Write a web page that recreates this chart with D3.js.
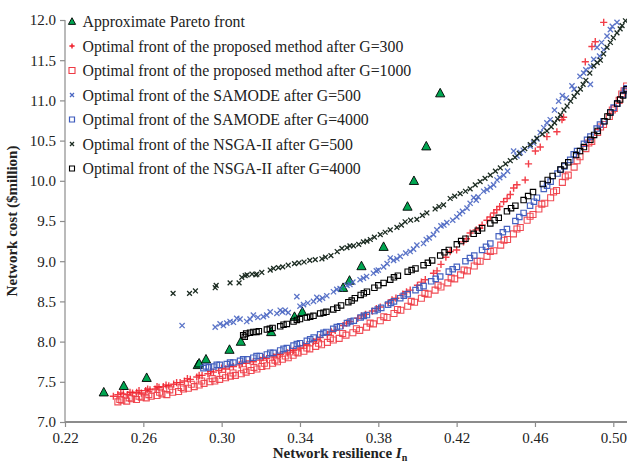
<!DOCTYPE html>
<html>
<head>
<meta charset="utf-8">
<script src="https://cdn.jsdelivr.net/npm/d3@7"></script>
<style>
  body { margin: 0; background: #fff; }
  text { font-family: "Liberation Serif", "Times New Roman", serif; }
</style>
</head>
<body>
<div id="chart"></div>
<script>

var legendLabels = [
  'Approximate Pareto front',
  'Optimal front of the proposed method after G=300',
  'Optimal front of the proposed method after G=1000',
  'Optimal front of the SAMODE after G=500',
  'Optimal front of the SAMODE after G=4000',
  'Optimal front of the NSGA-II after G=500',
  'Optimal front of the NSGA-II after G=4000'
];

var xTicks = [0.22, 0.26, 0.30, 0.34, 0.38, 0.42, 0.46, 0.50];
var yTicks = [7.0, 7.5, 8.0, 8.5, 9.0, 9.5, 10.0, 10.5, 11.0, 11.5, 12.0];

var pareto = [
  [0.2398,7.37],[0.2500,7.45],[0.2617,7.55],[0.2878,7.71],[0.2885,7.73],[0.2920,7.78],
  [0.3040,7.90],[0.3098,8.00],[0.3253,8.12],[0.3372,8.31],[0.3412,8.37],[0.3620,8.67],
  [0.3653,8.76],[0.3714,8.94],[0.3827,9.18],[0.3949,9.68],[0.3982,10.00],[0.4045,10.43],
  [0.4116,11.09]
];

var prop300 = [
  [0.2447,7.32],[0.2470,7.34],[0.2498,7.35],[0.2520,7.34],[0.2545,7.36],[0.2566,7.37],
  [0.2590,7.36],[0.2612,7.39],[0.2634,7.40],[0.2660,7.41],[0.2680,7.43],[0.2702,7.44],
  [0.2730,7.45],[0.2755,7.47],[0.2788,7.49],[0.2810,7.51],[0.2840,7.53],[0.2873,7.56],
  [0.2900,7.58],[0.2930,7.60],[0.2958,7.62],[0.2985,7.64],[0.3020,7.66],[0.3060,7.69],
  [0.3090,7.71],[0.3125,7.73],[0.3162,7.75],[0.3195,7.77],[0.3230,7.79],[0.3265,7.81],
  [0.3300,7.84],[0.3335,7.86],[0.3367,7.89],[0.3400,7.92],[0.3435,7.96],[0.3469,8.00],
  [0.3503,8.05],[0.3540,8.09],[0.3580,8.14],[0.3620,8.20],[0.3656,8.25],[0.3695,8.29],
  [0.3735,8.34],[0.3770,8.38],[0.3810,8.43],[0.3850,8.48],[0.3890,8.54],[0.3925,8.59],
  [0.3963,8.64],[0.4000,8.70],[0.4040,8.77],[0.4082,8.85],[0.4120,8.96],[0.4167,9.12],
  [0.4200,9.14],[0.4235,9.24],[0.4269,9.35],[0.4300,9.39],[0.4330,9.45],[0.4355,9.51],
  [0.4390,9.60],[0.4420,9.68],[0.4440,9.74],[0.4474,9.83],[0.4491,9.91],[0.4508,9.95],
  [0.4550,10.01],[0.4567,10.21],[0.4602,10.37],[0.4627,10.42],[0.4661,10.55],[0.4712,10.61],
  [0.4738,10.76],[0.4746,10.79],[0.4857,11.48],[0.4891,11.67],[0.4908,11.73],[0.4951,11.97],
  [0.2485,7.36],[0.2532,7.37],[0.2578,7.39],[0.2622,7.41],[0.2670,7.44],[0.2716,7.46],
  [0.2770,7.49],[0.2825,7.54],[0.2885,7.58],[0.2944,7.63],[0.3000,7.67],[0.3040,7.69],
  [0.3105,7.73],[0.3145,7.76],[0.3212,7.80],[0.3282,7.84],[0.3350,7.89],[0.3418,7.95],
  [0.3485,8.03],[0.3560,8.12],[0.3638,8.23],[0.3715,8.32],[0.3790,8.41],[0.3870,8.52],
  [0.3944,8.62],[0.4020,8.74],[0.4100,8.88],[0.4145,9.05],[0.4250,9.28],[0.4318,9.41],
  [0.4372,9.55],[0.4405,9.64],[0.4458,9.78]
];

var prop1000 = [
  [0.2470,7.25],[0.2490,7.27],[0.2515,7.26],[0.2540,7.29],[0.2565,7.28],[0.2590,7.31],
  [0.2615,7.30],[0.2640,7.32],[0.2670,7.33],[0.2695,7.35],[0.2720,7.34],[0.2750,7.37],
  [0.2780,7.38],[0.2805,7.41],[0.2830,7.42],[0.2860,7.44],[0.2885,7.46],[0.2910,7.48],
  [0.2940,7.50],[0.2965,7.51],[0.2990,7.53],[0.3020,7.55],[0.3045,7.57],[0.3070,7.58],
  [0.3100,7.60],[0.3125,7.62],[0.3150,7.64],[0.3180,7.66],[0.3205,7.69],[0.3230,7.70],
  [0.3260,7.73],[0.3285,7.75],[0.3310,7.78],[0.3340,7.80],[0.3365,7.83],[0.3390,7.86],
  [0.3420,7.88],[0.3450,7.91],[0.3480,7.94],[0.3510,7.96],[0.3540,7.99],[0.3570,8.02],
  [0.3600,8.04],[0.3635,8.08],[0.3670,8.11],[0.3705,8.14],[0.3740,8.18],[0.3775,8.22],
  [0.3810,8.26],[0.3845,8.30],[0.3880,8.35],[0.3915,8.39],[0.3950,8.44],[0.3985,8.49],
  [0.4020,8.54],[0.4055,8.59],[0.4090,8.64],[0.4120,8.68],[0.4155,8.73],[0.4190,8.78],
  [0.4220,8.83],[0.4255,8.88],[0.4290,8.94],[0.4320,9.00],[0.4355,9.06],[0.4390,9.13],
  [0.4425,9.20],[0.4460,9.27],[0.4490,9.34],[0.4525,9.42],[0.4560,9.51],[0.4590,9.58],
  [0.4620,9.65],[0.4650,9.72],[0.4680,9.79],[0.4710,9.88],[0.4740,9.98],[0.4770,10.07],
  [0.4800,10.17],[0.4830,10.30],[0.4860,10.40],[0.4890,10.49],[0.4920,10.60],[0.4950,10.70],
  [0.4980,10.80],[0.5005,10.90],[0.5030,11.00],[0.5055,11.12],[0.5068,11.18],
  [0.2480,7.28],[0.2528,7.30],[0.2578,7.32],[0.2628,7.34],[0.2683,7.37],[0.2735,7.40],
  [0.2793,7.43],[0.2845,7.47],[0.2898,7.51],[0.2952,7.54],[0.3005,7.58],[0.3058,7.61],
  [0.3112,7.65],[0.3165,7.68],[0.3218,7.73],[0.3272,7.77],[0.3325,7.82],[0.3378,7.87],
  [0.3435,7.92],[0.3495,7.98],[0.3555,8.04],[0.3618,8.10],[0.3688,8.16],[0.3758,8.23],
  [0.3828,8.31],[0.3898,8.40],[0.3968,8.50],[0.4038,8.60],[0.4105,8.70],[0.4172,8.79],
  [0.4238,8.89],[0.4305,9.00],[0.4372,9.12],[0.4442,9.26],[0.4508,9.40],[0.4575,9.56],
  [0.4635,9.71],[0.4695,9.86],[0.4755,10.05],[0.4815,10.25],[0.4875,10.47],[0.4935,10.67],
  [0.4995,10.88],[0.5043,11.08]
];

var samode500 = [
  [0.2798,8.20],[0.2967,8.18],[0.2992,8.22],[0.3009,8.20],[0.3026,8.23],[0.3043,8.25],
  [0.3077,8.29],[0.3094,8.28],[0.3128,8.25],[0.3162,8.33],[0.3185,8.30],[0.3213,8.31],
  [0.3248,8.37],[0.3282,8.35],[0.3299,8.39],[0.3325,8.39],[0.3340,8.36],[0.3384,8.56],
  [0.3418,8.46],[0.3440,8.48],[0.3469,8.50],[0.3486,8.55],[0.3515,8.54],[0.3537,8.57],
  [0.3571,8.62],[0.3605,8.66],[0.3640,8.70],[0.3670,8.74],[0.3707,8.77],[0.3740,8.81],
  [0.3775,8.85],[0.3800,8.89],[0.3827,8.93],[0.3861,9.04],[0.3878,9.01],[0.3912,9.06],
  [0.3940,9.10],[0.3963,9.12],[0.3997,9.20],[0.4031,9.22],[0.4060,9.29],[0.4082,9.33],
  [0.4099,9.39],[0.4120,9.44],[0.4150,9.48],[0.4180,9.51],[0.4201,9.55],[0.4230,9.62],
  [0.4253,9.66],[0.4269,9.72],[0.4287,9.79],[0.4310,9.80],[0.4338,9.87],[0.4355,9.89],
  [0.4389,9.95],[0.4406,10.01],[0.4440,10.07],[0.4460,10.12],[0.4491,10.37],[0.4508,10.31],
  [0.4540,10.38],[0.4576,10.43],[0.4593,10.47],[0.4627,10.60],[0.4661,10.72],[0.4678,10.76],
  [0.4700,10.88],[0.4721,10.99],[0.4760,11.03],[0.4789,11.18],[0.4800,11.14],[0.4849,11.34],
  [0.4883,11.20],[0.4885,11.42],[0.4900,11.51],[0.4917,11.66],[0.4930,11.55],[0.4951,11.63],
  [0.4968,11.80],[0.4985,11.88],[0.5019,11.97],
  [0.3060,8.24],[0.3145,8.28],[0.3230,8.33],[0.3310,8.37],[0.3400,8.44],[0.3500,8.52],
  [0.3588,8.65],[0.3655,8.71],[0.3724,8.79],[0.3790,8.88],[0.3845,8.97],[0.3895,9.03],
  [0.3980,9.15],[0.4045,9.27],[0.4135,9.45],[0.4215,9.59],[0.4300,9.76],[0.4372,9.92],
  [0.4420,10.04],[0.4525,10.35],[0.4610,10.52],[0.4645,10.66],[0.4740,11.06],[0.4830,11.30],
  [0.4860,11.38],[0.4940,11.72],[0.4995,11.92]
];

var samode4000 = [
  [0.2907,7.67],[0.2935,7.68],[0.2958,7.69],[0.2990,7.71],[0.3026,7.72],[0.3060,7.74],
  [0.3094,7.76],[0.3130,7.78],[0.3162,7.80],[0.3195,7.82],[0.3231,7.84],[0.3265,7.86],
  [0.3299,7.89],[0.3333,7.92],[0.3367,7.95],[0.3400,7.98],[0.3435,8.01],[0.3470,8.05],
  [0.3503,8.09],[0.3535,8.12],[0.3570,8.16],[0.3605,8.19],[0.3640,8.23],[0.3675,8.26],
  [0.3710,8.30],[0.3742,8.33],[0.3780,8.38],[0.3815,8.42],[0.3850,8.46],[0.3880,8.50],
  [0.3912,8.54],[0.3950,8.59],[0.3990,8.64],[0.4031,8.69],[0.4070,8.75],[0.4116,8.81],
  [0.4160,8.87],[0.4201,8.93],[0.4245,9.00],[0.4290,9.07],[0.4330,9.14],[0.4372,9.22],
  [0.4415,9.31],[0.4457,9.40],[0.4500,9.50],[0.4542,9.60],[0.4575,9.69],[0.4610,9.79],
  [0.4645,9.90],[0.4680,9.99],[0.4715,10.09],[0.4750,10.18],[0.4780,10.26],[0.4815,10.37],
  [0.4850,10.46],[0.4883,10.55],[0.4915,10.65],[0.4950,10.74],[0.4985,10.85],[0.5020,10.96],
  [0.5050,11.07],[0.5068,11.15],
  [0.2920,7.69],[0.2975,7.71],[0.3043,7.74],[0.3110,7.78],[0.3178,7.82],[0.3248,7.86],
  [0.3316,7.91],[0.3384,7.97],[0.3452,8.03],[0.3520,8.11],[0.3588,8.18],[0.3658,8.25],
  [0.3726,8.32],[0.3797,8.40],[0.3865,8.48],[0.3930,8.57],[0.4010,8.67],[0.4093,8.78],
  [0.4180,8.90],[0.4268,9.04],[0.4350,9.18],[0.4436,9.36],[0.4520,9.55],[0.4595,9.74],
  [0.4662,9.94],[0.4732,10.14],[0.4798,10.33],[0.4866,10.51],[0.4932,10.70],[0.5002,10.91],
  [0.5060,11.12]
];

var nsga500 = [
  [0.2752,8.60],[0.2836,8.60],[0.2866,8.63],[0.2967,8.67],[0.2972,8.70],[0.3043,8.73],
  [0.3089,8.73],[0.3103,8.80],[0.3130,8.83],[0.3155,8.84],[0.3180,8.84],[0.3205,8.86],
  [0.3248,8.89],[0.3265,8.91],[0.3312,8.93],[0.3372,8.97],[0.3421,8.99],[0.3450,9.01],
  [0.3478,9.02],[0.3512,9.03],[0.3558,9.07],[0.3614,9.16],[0.3640,9.17],[0.3673,9.19],
  [0.3700,9.21],[0.3724,9.24],[0.3759,9.27],[0.3780,9.30],[0.3810,9.33],[0.3861,9.39],
  [0.3895,9.42],[0.3937,9.49],[0.3997,9.52],[0.4048,9.60],[0.4090,9.65],[0.4133,9.70],
  [0.4167,9.78],[0.4218,9.84],[0.4269,9.90],[0.4320,9.99],[0.4372,10.07],[0.4423,10.16],
  [0.4474,10.25],[0.4520,10.34],[0.4576,10.45],[0.4610,10.53],[0.4661,10.62],[0.4700,10.72],
  [0.4730,10.82],[0.4764,10.93],[0.4800,11.05],[0.4832,11.14],[0.4860,11.25],[0.4880,11.34],
  [0.4900,11.43],[0.4934,11.50],[0.4968,11.66],[0.5000,11.78],[0.5019,11.84],[0.5045,11.93],
  [0.5062,11.99],
  [0.3120,8.82],[0.3175,8.83],[0.3290,8.92],[0.3340,8.95],[0.3395,8.98],[0.3530,9.05],
  [0.3590,9.12],[0.3655,9.19],[0.3742,9.25],[0.3835,9.36],[0.3918,9.45],[0.3965,9.51],
  [0.4025,9.57],[0.4110,9.68],[0.4190,9.81],[0.4245,9.87],[0.4295,9.95],[0.4345,10.03],
  [0.4398,10.12],[0.4450,10.21],[0.4498,10.29],[0.4548,10.40],[0.4595,10.49],[0.4638,10.58],
  [0.4683,10.67],[0.4716,10.77],[0.4748,10.88],[0.4782,10.99],[0.4816,11.10],[0.4846,11.20],
  [0.4918,11.47],[0.4950,11.58],[0.4985,11.72],[0.5035,11.89]
];

var nsga4000 = [
  [0.3110,8.08],[0.3125,8.10],[0.3145,8.11],[0.3162,8.12],[0.3190,8.13],[0.3231,8.15],
  [0.3260,8.17],[0.3299,8.19],[0.3333,8.22],[0.3367,8.25],[0.3400,8.28],[0.3435,8.30],
  [0.3469,8.32],[0.3503,8.35],[0.3535,8.37],[0.3570,8.40],[0.3610,8.45],[0.3647,8.49],
  [0.3680,8.54],[0.3710,8.58],[0.3742,8.62],[0.3780,8.67],[0.3827,8.73],[0.3861,8.77],
  [0.3900,8.82],[0.3950,8.87],[0.3990,8.91],[0.4031,8.95],[0.4075,9.01],[0.4116,9.07],
  [0.4160,9.14],[0.4201,9.21],[0.4245,9.28],[0.4287,9.34],[0.4330,9.41],[0.4372,9.47],
  [0.4415,9.54],[0.4457,9.62],[0.4500,9.69],[0.4542,9.76],[0.4590,9.86],[0.4640,9.96],
  [0.4690,10.06],[0.4730,10.14],[0.4770,10.23],[0.4810,10.32],[0.4850,10.42],[0.4883,10.51],
  [0.4920,10.62],[0.4955,10.74],[0.4985,10.85],[0.5020,10.96],[0.5050,11.06],[0.5068,11.14],
  [0.3118,8.06],[0.3178,8.12],[0.3246,8.16],[0.3316,8.21],[0.3384,8.27],[0.3452,8.31],
  [0.3520,8.36],[0.3590,8.42],[0.3664,8.51],[0.3726,8.60],[0.3800,8.70],[0.3880,8.80],
  [0.3970,8.89],[0.4053,8.98],[0.4138,9.11],[0.4223,9.25],[0.4308,9.38],[0.4394,9.51],
  [0.4478,9.66],[0.4565,9.81],[0.4665,10.01],[0.4750,10.19],[0.4830,10.37],[0.4902,10.57],
  [0.4970,10.80],[0.5035,11.01]
];

var width = 627, height = 463;
var margin = { top: 20, right: 0, bottom: 41, left: 65 };

var svg = d3.select('#chart').append('svg')
    .attr('width', width)
    .attr('height', height);

var x = d3.scaleLinear().domain([0.22, 0.507]).range([margin.left, width - margin.right]);
var y = d3.scaleLinear().domain([7, 12]).range([height - margin.bottom, margin.top]);

// marker path generators, s = half size
function markerPath(shape, s) {
  if (shape === 'plus') return 'M' + (-s) + ',0H' + s + 'M0,' + (-s) + 'V' + s;
  if (shape === 'cross') return 'M' + (-s) + ',' + (-s) + 'L' + s + ',' + s + 'M' + (-s) + ',' + s + 'L' + s + ',' + (-s);
  if (shape === 'square') return 'M' + (-s) + ',' + (-s) + 'H' + s + 'V' + s + 'H' + (-s) + 'Z';
  return 'M0,' + (-s * 1.05) + 'L' + s + ',' + (s * 0.8) + 'L' + (-s) + ',' + (s * 0.8) + 'Z';
}

var series = [
  { data: pareto, shape: 'tri', size: 4.6, legendSize: 3.6, stroke: '#000', fill: '#00a651', sw: 0.9, op: 1 },
  { data: prop300, shape: 'plus', size: 3.6, legendSize: 2.6, stroke: '#f01c28', fill: 'none', sw: 1.4, op: 0.85 },
  { data: prop1000, shape: 'square', size: 3.0, legendSize: 3.0, stroke: '#ee3a44', fill: 'none', sw: 1.1, op: 0.9 },
  { data: samode500, shape: 'cross', size: 2.6, legendSize: 2.0, stroke: '#4a66c2', fill: 'none', sw: 1.3, op: 0.9 },
  { data: samode4000, shape: 'square', size: 2.7, legendSize: 2.5, stroke: '#3d5bbd', fill: 'none', sw: 1.2, op: 0.95 },
  { data: nsga500, shape: 'cross', size: 2.4, legendSize: 2.0, stroke: '#1c2c22', fill: 'none', sw: 1.3, op: 1 },
  { data: nsga4000, shape: 'square', size: 2.7, legendSize: 2.5, stroke: '#000', fill: 'none', sw: 1.1, op: 1 }
];

// axes
var axisColor = '#8c8c8c';

var yAxis = svg.append('g')
    .attr('transform', 'translate(' + margin.left + ',0)')
    .call(d3.axisLeft(y).tickValues(yTicks).tickSize(5).tickPadding(4).tickFormat(d3.format('.1f')));

var xAxis = svg.append('g')
    .attr('transform', 'translate(0,' + (height - margin.bottom) + ')')
    .call(d3.axisBottom(x).tickValues(xTicks).tickSize(5).tickPadding(5).tickFormat(d3.format('.2f')));

[yAxis, xAxis].forEach(function(a) {
  a.select('.domain').attr('stroke', axisColor).attr('stroke-width', 1.2);
  a.selectAll('.tick line').attr('stroke', axisColor).attr('stroke-width', 1.2);
  a.selectAll('.tick text')
    .attr('fill', '#222')
    .style('font-family', '"Liberation Serif", serif')
    .style('font-size', '15px');
});
xAxis.select('.domain').attr('stroke-width', 2.2).attr('d', 'M' + margin.left + ',0H' + width);
yAxis.select('.domain').attr('d', 'M0,' + (height - margin.bottom) + 'V' + margin.top);

// scatter marks
series.forEach(function(s) {
  svg.append('g')
    .selectAll('path')
    .data(s.data)
    .enter().append('path')
    .attr('transform', function(d) { return 'translate(' + x(d[0]) + ',' + y(d[1]) + ')'; })
    .attr('d', markerPath(s.shape, s.size))
    .attr('fill', s.fill)
    .attr('stroke', s.stroke)
    .attr('stroke-width', s.sw)
    .attr('opacity', s.op);
});

// legend
var legend = svg.append('g').attr('class', 'legend');
series.forEach(function(s, i) {
  var row = legend.append('g')
      .attr('transform', 'translate(72,' + (21.5 + i * 24.5) + ')');
  row.append('path')
      .attr('d', markerPath(s.shape, s.legendSize))
      .attr('fill', s.fill)
      .attr('stroke', s.stroke)
      .attr('stroke-width', s.sw);
  row.append('text')
      .attr('x', 10.5)
      .attr('dy', '0.35em')
      .attr('fill', '#222')
      .style('font-size', '15.8px')
      .text(legendLabels[i]);
});

// axis titles
svg.append('text')
    .attr('transform', 'translate(17,' + ((margin.top + height - margin.bottom) / 2) + ') rotate(-90)')
    .attr('text-anchor', 'middle')
    .attr('font-weight', 'bold')
    .attr('fill', '#222')
    .style('font-size', '15px')
    .text('Network cost ($million)');

var xTitle = svg.append('text')
    .attr('x', 340)
    .attr('y', 458)
    .attr('text-anchor', 'middle')
    .attr('font-weight', 'bold')
    .attr('fill', '#222')
    .style('font-size', '15px');
xTitle.append('tspan').text('Network resilience ');
xTitle.append('tspan').attr('font-style', 'italic').text('I');
xTitle.append('tspan').attr('dy', 3).style('font-size', '10px').text('n');

</script>
</body>
</html>
